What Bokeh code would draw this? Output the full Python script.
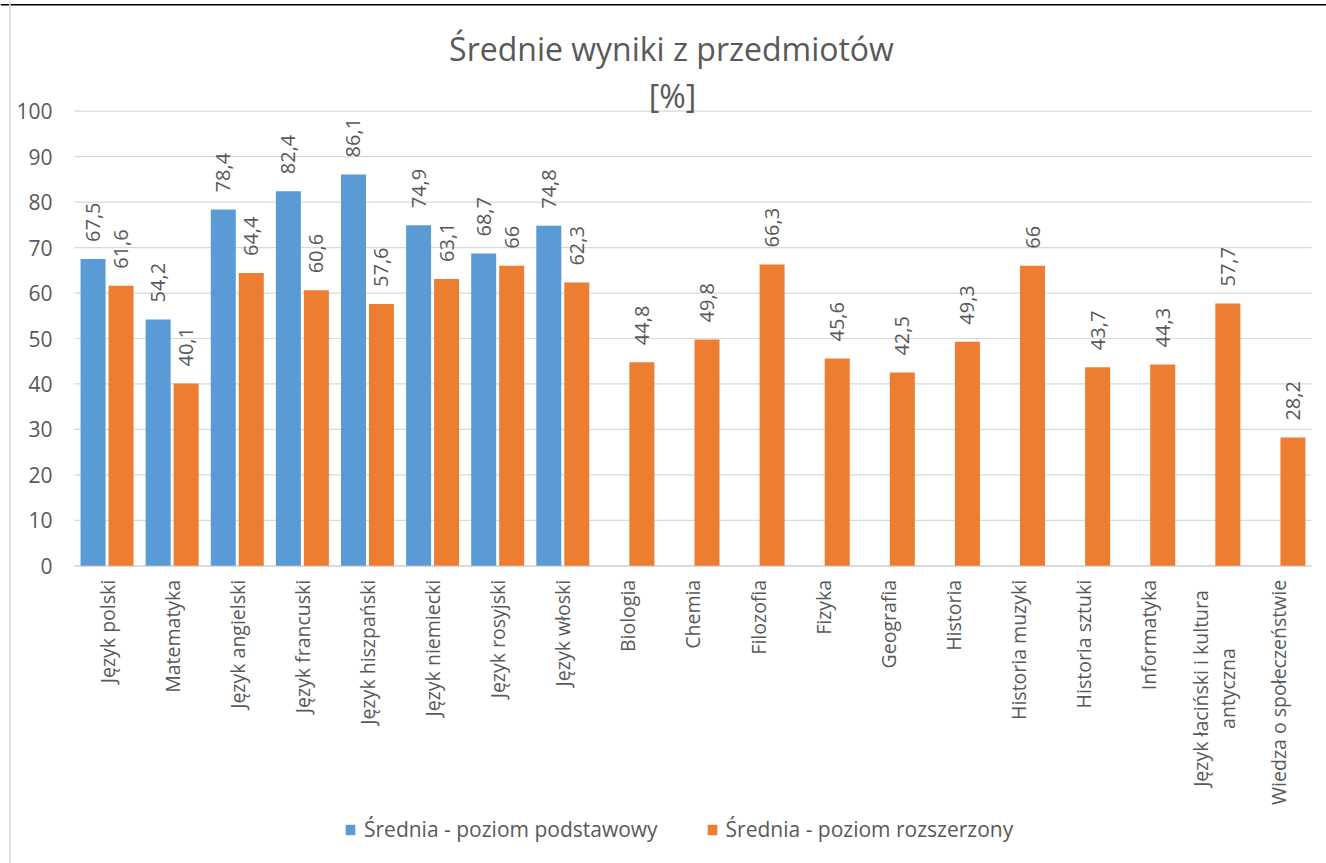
from math import pi
from bokeh.plotting import figure
from bokeh.models import (ColumnDataSource, Range1d, LabelSet, Label, Legend, LegendItem,
                          Span)
from bokeh.core.properties import value
from bokeh.embed import file_html
from bokeh.resources import INLINE

categories = ["Język polski", "Matematyka", "Język angielski", "Język francuski",
              "Język hiszpański", "Język niemiecki", "Język rosyjski", "Język włoski",
              "Biologia", "Chemia", "Filozofia", "Fizyka", "Geografia", "Historia",
              "Historia muzyki", "Historia sztuki", "Informatyka",
              "Język łaciński i kultura\nantyczna", "Wiedza o społeczeństwie"]
basic_values = [67.5, 54.2, 78.4, 82.4, 86.1, 74.9, 68.7, 74.8]
extended_values = [61.6, 40.1, 64.4, 60.6, 57.6, 63.1, 66, 62.3, 44.8, 49.8, 66.3,
                   45.6, 42.5, 49.3, 66, 43.7, 44.3, 57.7, 28.2]
series_names = ["Średnia - poziom podstawowy", "Średnia - poziom rozszerzony"]
title_lines = ["Średnie wyniki z przedmiotów", "[%]"]
y_ticks = [0, 10, 20, 30, 40, 50, 60, 70, 80, 90, 100]

BLUE = "#5B9BD5"
ORANGE = "#ED7D31"
GREY = "#595959"
GRID = "#d9d9d9"
FONT = "Open Sans"

W, H = 1326, 863
# plot area in page pixels
PL, PR, PT, PB = 74.0, 1311.0, 110.7, 565.3
n = len(categories)
cw = (PR - PL) / n            # category width in px
uy = (PB - PT) / 100.0        # px per value unit


def px_x(px):
    return (px - PL) / cw


def px_y(py):
    return (PB - py) / uy


def fmt(v):
    return str(v).replace(".", ",")


pos = [i + 0.5 for i in range(n)]
OFF, BW = 0.215, 0.384

src_basic = ColumnDataSource(dict(x=[pos[i] - OFF for i in range(len(basic_values))],
                                  val=basic_values,
                                  lbl=[fmt(v) for v in basic_values]))
src_ext = ColumnDataSource(dict(x=[pos[i] + OFF for i in range(n)], val=extended_values,
                                lbl=[fmt(v) for v in extended_values]))

p = figure(width=W, height=H, output_backend="svg", toolbar_location=None,
           x_range=Range1d(px_x(0), px_x(W)), y_range=Range1d(px_y(H), px_y(0)),
           x_axis_location=None, y_axis_location=None,
           min_border_left=0, min_border_right=0, min_border_top=0, min_border_bottom=0)
p.outline_line_color = None
p.background_fill_color = "white"
p.border_fill_color = "white"
p.xgrid.visible = False
p.ygrid.visible = False

# gridlines and axis line
p.segment(x0=[0] * len(y_ticks), x1=[n] * len(y_ticks), y0=y_ticks, y1=y_ticks,
          line_color=GRID, line_width=1.2)
p.segment(x0=[0], x1=[n], y0=[0], y1=[0], line_color=GRID, line_width=1.8)

# chart/sheet borders
p.add_layout(Span(location=px_y(4.3), dimension="width", line_color="black",
                  line_width=1.6))
p.add_layout(Span(location=px_x(9.3), dimension="height", line_color=GRID,
                  line_width=1.6))

r1 = p.vbar(x="x", top="val", width=BW, source=src_basic, fill_color=BLUE,
            line_color=None)
r2 = p.vbar(x="x", top="val", width=BW, source=src_ext, fill_color=ORANGE,
            line_color=None)

# y tick labels
p.add_layout(LabelSet(x=px_x(52), y="t", text="s",
                      source=ColumnDataSource(dict(t=y_ticks, s=[str(t) for t in y_ticks])),
                      text_align="right", text_baseline="middle", text_font=value(FONT),
                      text_font_size="21px", text_color=GREY))

# data labels
for src in (src_basic, src_ext):
    p.add_layout(LabelSet(x="x", y="val", text="lbl", source=src, angle=pi / 2,
                          text_align="left", text_baseline="middle", y_offset=17,
                          text_font=value(FONT), text_font_size="20px", text_color=GREY))

# category labels (single-line ones hang from the axis; wrapped ones are centred lines)
single_x, single_t = [], []
multi_x, multi_t, multi_dx = [], [], []
LINE_STEP = 27
for i, c in enumerate(categories):
    lines = c.split("\n")
    if len(lines) == 1:
        single_x.append(pos[i])
        single_t.append(c)
    else:
        for k, ln in enumerate(lines):
            multi_x.append(pos[i])
            multi_t.append(ln)
            multi_dx.append((k - (len(lines) - 1) / 2) * LINE_STEP)

p.add_layout(LabelSet(x="x", y=0, text="t",
                      source=ColumnDataSource(dict(x=single_x, t=single_t)),
                      angle=pi / 2, text_align="right", text_baseline="middle",
                      y_offset=-14, text_font=value(FONT), text_font_size="19.5px",
                      text_color=GREY))
p.add_layout(LabelSet(x="x", y=0, text="t", x_offset="dx",
                      source=ColumnDataSource(dict(x=multi_x, t=multi_t, dx=multi_dx)),
                      angle=pi / 2, text_align="center", text_baseline="middle",
                      y_offset=-(688 - PB), text_font=value(FONT),
                      text_font_size="19.5px", text_color=GREY))

# title
p.add_layout(Label(x=px_x(671), y=px_y(48), text=title_lines[0],
                   text_align="center", text_baseline="alphabetic", text_font=FONT,
                   text_font_size="32px", text_color=GREY))
p.add_layout(Label(x=px_x(672), y=px_y(95), text=title_lines[1],
                   text_align="center", text_baseline="alphabetic", text_font=FONT,
                   text_font_size="32px", text_color=GREY))

legend = Legend(items=[LegendItem(label=series_names[0], renderers=[r1]),
                       LegendItem(label=series_names[1], renderers=[r2])],
                orientation="horizontal", location=(344, 20),
                label_text_font=FONT, label_text_font_size="21px",
                label_text_color=GREY, glyph_width=12, glyph_height=13,
                spacing=48, label_standoff=8, padding=0, margin=0,
                border_line_color=None, background_fill_alpha=0)
p.add_layout(legend)

open("out.html", "w").write(file_html(p, INLINE))
